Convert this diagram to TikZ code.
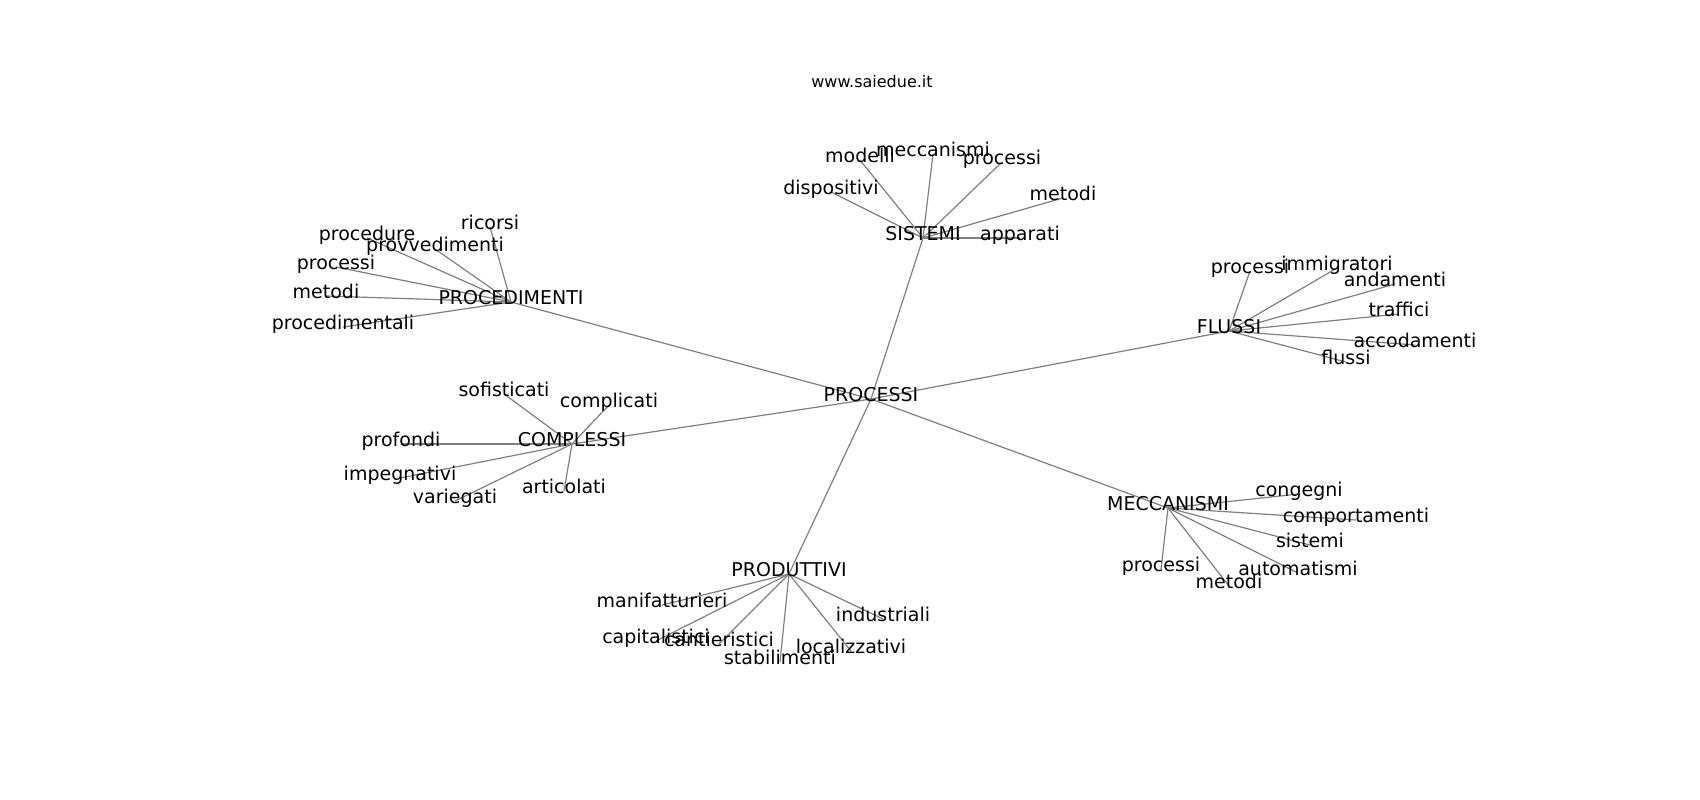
\documentclass[tikz,border=0pt]{standalone}
\usepackage{fontspec}
\setmainfont{DejaVu Sans}
\usetikzlibrary{backgrounds}
\tikzset{
  lbl/.style={inner sep=0pt, anchor=center, text height=0.76em, text depth=0.24em, font=\fontsize{19}{19}\selectfont, text=black},
  ttl/.style={inner sep=0pt, anchor=center, text height=0.76em, text depth=0.24em, font=\fontsize{16}{16}\selectfont, text=black},
  edge/.style={draw=gray, line width=1.2pt}
}
\begin{document}
\begin{tikzpicture}[x=1pt,y=-1pt]
\useasboundingbox (0,0) rectangle (1700,800);
\begin{scope}[yshift=-3pt]
\node[ttl] (title) at (872,82) {www.saiedue.it};
% hubs
\node[lbl] (P) at (871,396) {PROCESSI};
\node[lbl] (S) at (923,235) {SISTEMI};
\node[lbl] (PR) at (511,299) {PROCEDIMENTI};
\node[lbl] (F) at (1229,328) {FLUSSI};
\node[lbl] (C) at (572,441) {COMPLESSI};
\node[lbl] (PD) at (789,571) {PRODUTTIVI};
\node[lbl] (M) at (1168,505) {MECCANISMI};
% SISTEMI leaves
\node[lbl] (s1) at (860,157) {modelli};
\node[lbl] (s2) at (933,151) {meccanismi};
\node[lbl] (s3) at (1002,159) {processi};
\node[lbl] (s4) at (831,189) {dispositivi};
\node[lbl] (s5) at (1063,195) {metodi};
\node[lbl] (s6) at (1020,235) {apparati};
% PROCEDIMENTI leaves
\node[lbl] (pr1) at (490,224) {ricorsi};
\node[lbl] (pr2) at (367,235) {procedure};
\node[lbl] (pr3) at (435,246) {provvedimenti};
\node[lbl] (pr4) at (336,264) {processi};
\node[lbl] (pr5) at (326,293) {metodi};
\node[lbl] (pr6) at (343,324) {procedimentali};
% FLUSSI leaves
\node[lbl] (f1) at (1250,268) {processi};
\node[lbl] (f2) at (1337,265) {immigratori};
\node[lbl] (f3) at (1395,281) {andamenti};
\node[lbl] (f4) at (1399,311) {traffici};
\node[lbl] (f5) at (1415,342) {accodamenti};
\node[lbl] (f6) at (1346,359) {flussi};
% COMPLESSI leaves
\node[lbl] (c1) at (504,391) {sofisticati};
\node[lbl] (c2) at (609,402) {complicati};
\node[lbl] (c3) at (401,441) {profondi};
\node[lbl] (c4) at (400,475) {impegnativi};
\node[lbl] (c5) at (455,498) {variegati};
\node[lbl] (c6) at (564,488) {articolati};
% PRODUTTIVI leaves
\node[lbl] (d1) at (662,602) {manifatturieri};
\node[lbl] (d2) at (656,638) {capitalistici};
\node[lbl] (d3) at (719,641) {cantieristici};
\node[lbl] (d4) at (780,659) {stabilimenti};
\node[lbl] (d5) at (851,648) {localizzativi};
\node[lbl] (d6) at (883,616) {industriali};
% MECCANISMI leaves
\node[lbl] (m1) at (1299,491) {congegni};
\node[lbl] (m2) at (1356,517) {comportamenti};
\node[lbl] (m3) at (1310,542) {sistemi};
\node[lbl] (m4) at (1298,570) {automatismi};
\node[lbl] (m5) at (1161,566) {processi};
\node[lbl] (m6) at (1229,583) {metodi};
\end{scope}
\begin{scope}[on background layer]
\fill[white] (0,0) rectangle (1700,800);
\foreach \a/\b in {P/S,P/PR,P/F,P/C,P/PD,P/M,
  S/s1,S/s2,S/s3,S/s4,S/s5,S/s6,
  PR/pr1,PR/pr2,PR/pr3,PR/pr4,PR/pr5,PR/pr6,
  F/f1,F/f2,F/f3,F/f4,F/f5,F/f6,
  C/c1,C/c2,C/c3,C/c4,C/c5,C/c6,
  PD/d1,PD/d2,PD/d3,PD/d4,PD/d5,PD/d6,
  M/m1,M/m2,M/m3,M/m4,M/m5,M/m6}
  \draw[edge] (\a.center) -- (\b.center);
\end{scope}
\end{tikzpicture}
\end{document}
